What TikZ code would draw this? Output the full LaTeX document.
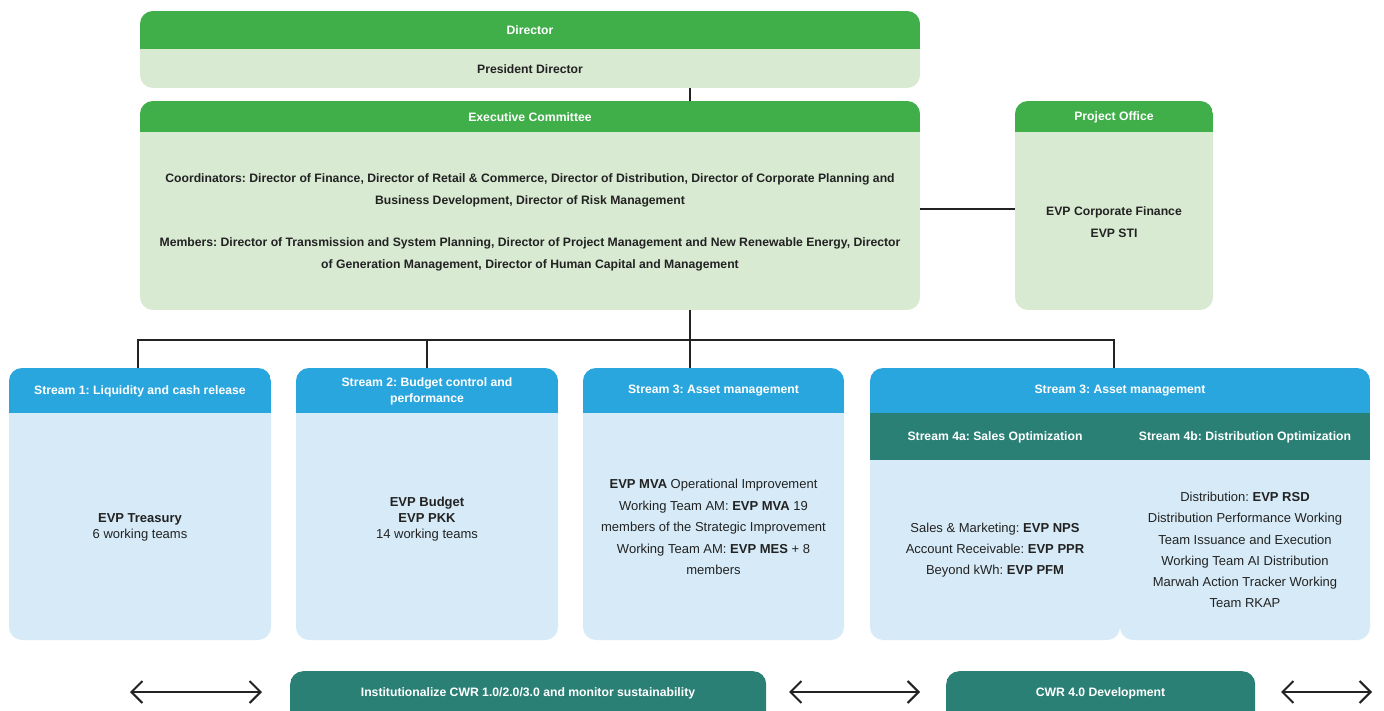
\documentclass[tikz,border=0pt]{standalone}
\usepackage{fontspec}
\setmainfont{Liberation Sans}
\usetikzlibrary{arrows.meta}
\frenchspacing

\definecolor{hdrgreen}{RGB}{64,174,73}
\definecolor{bodygreen}{RGB}{217,234,211}
\definecolor{hdrblue}{RGB}{42,166,222}
\definecolor{bodyblue}{RGB}{214,235,247}
\definecolor{bandteal}{RGB}{43,128,117}
\definecolor{ink}{RGB}{34,34,34}

\tikzset{
  panel/.style n args={3}{rectangle, rounded corners=13pt, inner sep=0pt, outer sep=0pt,
    anchor=north west, fill=#2,
    path picture={\fill[#1, sharp corners] (path picture bounding box.north west)
      rectangle ([yshift=-#3]path picture bounding box.north east);}},
  bodybox/.style={rectangle, rounded corners=13pt, inner sep=0pt, outer sep=0pt,
    anchor=north west, fill=bodyblue},
  ttl/.style={text=white, font=\fontsize{12.2}{16}\selectfont\bfseries, align=center, inner sep=0pt},
  lbl/.style={text=ink, font=\fontsize{12.2}{22}\selectfont\bfseries, align=center, inner sep=0pt},
  txt/.style={text=ink, font=\fontsize{13}{21.4}\selectfont, align=center, inner sep=0pt},
  conn/.style={draw=ink, line width=2.8pt},
  flow/.style={draw=ink, line width=2pt,
    {Straight Barb[length=11pt,width=22pt]}-{Straight Barb[length=11pt,width=22pt]}},
}

\begin{document}
\begin{tikzpicture}[x=1pt,y=-1pt]
\clip (0,0) rectangle (1384,711);
\fill[white] (0,0) rectangle (1384,711);

% Board level
\node[panel={hdrgreen}{bodygreen}{38pt}, minimum width=780pt, minimum height=77pt] (dir) at (140,11) {};
\node[ttl] (dirT) at (530,30) {Director};
\node[lbl] (dirB) at (530,69) {President Director};

% Executive committee
\node[panel={hdrgreen}{bodygreen}{31pt}, minimum width=780pt, minimum height=209pt] (exc) at (140,101) {};
\node[ttl] (excT) at (530,117) {Executive Committee};
\node[lbl] (excC) at (530,190) {Coordinators: Director of Finance, Director of Retail \& Commerce, Director of Distribution, Director of Corporate Planning and\\Business Development, Director of Risk Management};
\node[lbl] (excM) at (530,254) {Members: Director of Transmission and System Planning, Director of Project Management and New Renewable Energy, Director\\of Generation Management, Director of Human Capital and Management};

% Project office
\node[panel={hdrgreen}{bodygreen}{31pt}, minimum width=198pt, minimum height=209pt] (po) at (1015,101) {};
\node[ttl] (poT) at (1114,117) {Project Office};
\node[lbl] (poB) at (1114,222) {EVP Corporate Finance\\EVP STI};

% Streams
\node[panel={hdrblue}{bodyblue}{45pt}, minimum width=262pt, minimum height=272pt] (s1) at (9,368) {};
\node[ttl] (s1T) at (140,391) {Stream 1: Liquidity and cash release};
\node[txt, font=\fontsize{13}{16}\selectfont] (s1B) at (140,527) {\textbf{EVP Treasury}\\6 working teams};

\node[panel={hdrblue}{bodyblue}{45pt}, minimum width=262pt, minimum height=272pt] (s2) at (296,368) {};
\node[ttl] (s2T) at (427,391) {Stream 2: Budget control and\\performance};
\node[txt, font=\fontsize{13}{16}\selectfont] (s2B) at (427,519) {\textbf{EVP Budget}\\\textbf{EVP PKK}\\14 working teams};

\node[panel={hdrblue}{bodyblue}{45pt}, minimum width=261pt, minimum height=272pt] (s3) at (583,368) {};
\node[ttl] (s3T) at (713.5,391) {Stream 3: Asset management};
\node[txt] (s3B) at (713.5,527) {\textbf{EVP MVA} Operational Improvement\\Working Team AM: \textbf{EVP MVA} 19\\members of the Strategic Improvement\\Working Team AM: \textbf{EVP MES} + 8\\members};

% Stream 4: two bodies under a shared two-band header
\node[bodybox, minimum width=250pt, minimum height=210pt] (s4a) at (870,430) {};
\node[bodybox, minimum width=250pt, minimum height=210pt] (s4b) at (1120,430) {};
\node[rectangle, rounded corners=13pt, inner sep=0pt, outer sep=0pt, anchor=north west,
  minimum width=500pt, minimum height=272pt,
  path picture={
    \fill[hdrblue, sharp corners] (path picture bounding box.north west) rectangle ([yshift=-45pt]path picture bounding box.north east);
    \fill[bandteal, sharp corners] ([yshift=-45pt]path picture bounding box.north west) rectangle ([yshift=-92pt]path picture bounding box.north east);
  }] (s4) at (870,368) {};
\node[ttl] (s4T) at (1120,391) {Stream 3: Asset management};
\node[ttl] (s4aT) at (995,437) {Stream 4a: Sales Optimization};
\node[ttl] (s4bT) at (1245,437) {Stream 4b: Distribution Optimization};
\node[txt, font=\fontsize{13}{21}\selectfont] (s4aB) at (995,550) {Sales \& Marketing: \textbf{EVP NPS}\\Account Receivable: \textbf{EVP PPR}\\Beyond kWh: \textbf{EVP PFM}};
\node[txt, font=\fontsize{13}{21.2}\selectfont] (s4bB) at (1245,550) {Distribution: \textbf{EVP RSD}\\Distribution Performance Working\\Team Issuance and Execution\\Working Team AI Distribution\\Marwah Action Tracker Working\\Team RKAP};

% Reporting lines
\draw[conn] ([xshift=160pt]dir.south) -- ([xshift=160pt]exc.north);
\draw[conn] ([yshift=-3.5pt]exc.east) -- ([yshift=-3.5pt]po.west);
\coordinate (bus) at (690,340);
\draw[conn] ([xshift=160pt]exc.south) -- ([xshift=-23.5pt]s3.north);
\draw[conn, line join=miter] ([xshift=-2pt]s1.north) -- ([xshift=-2pt]s1.north |- bus)
  -- ([xshift=-6pt]s4.north |- bus) -- ([xshift=-6pt]s4.north);
\draw[conn] (s2.north) -- (s2.north |- bus);

% Roadmap row
\node[rectangle, rounded corners=13pt, inner sep=0pt, anchor=north west, fill=bandteal,
  minimum width=476pt, minimum height=60pt] (r1) at (290,671) {};
\node[ttl] (r1T) at (528,693) {Institutionalize CWR 1.0/2.0/3.0 and monitor sustainability};
\node[rectangle, rounded corners=13pt, inner sep=0pt, anchor=north west, fill=bandteal,
  minimum width=309pt, minimum height=60pt] (r2) at (946,671) {};
\node[ttl] (r2T) at (1100.5,693) {CWR 4.0 Development};

\coordinate (f1a) at (130,692);
\coordinate (f1b) at (262,692);
\coordinate (f2a) at (789,692);
\coordinate (f2b) at (920,692);
\coordinate (f3a) at (1281,692);
\coordinate (f3b) at (1372,692);
\draw[flow] (f1a) -- (f1b);
\draw[flow] (f2a) -- (f2b);
\draw[flow] (f3a) -- (f3b);
\end{tikzpicture}
\end{document}
